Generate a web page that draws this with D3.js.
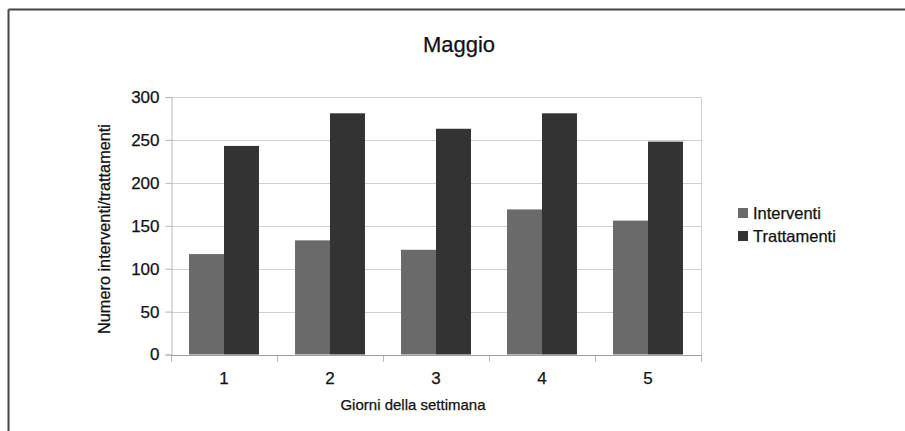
<!DOCTYPE html>
<html>
<head>
<meta charset="utf-8">
<script src="https://cdn.jsdelivr.net/npm/d3@7"></script>
<style>
  html, body { margin: 0; padding: 0; background: #fff; }
  svg { display: block; font-family: "Liberation Sans", Arial, Helvetica, sans-serif; }
  text { stroke: #111; stroke-width: 0.25px; }
</style>
</head>
<body>
<svg id="chart" width="905" height="431"></svg>
<script>
const categories = ["1", "2", "3", "4", "5"];
const seriesNames = ["Interventi", "Trattamenti"];
const interventi = [117, 133, 122, 169, 156];
const trattamenti = [243, 281, 263, 281, 248];
const yTicks = [0, 50, 100, 150, 200, 250, 300];
const colors = ["#6a6a6a", "#333333"];

const svg = d3.select("#chart");

// outer frame (top and left edges visible)
svg.append("line").attr("x1", 8.5).attr("x2", 905).attr("y1", 9.5).attr("y2", 9.5)
  .attr("stroke", "#444").attr("stroke-width", 2);
svg.append("line").attr("x1", 8.5).attr("x2", 8.5).attr("y1", 9.5).attr("y2", 431)
  .attr("stroke", "#444").attr("stroke-width", 2);

const plot = { left: 171, right: 701, top: 97, bottom: 354.5 };

const x0 = d3.scaleBand().domain(categories).range([plot.left, plot.right]).paddingInner(0.34).paddingOuter(0.17);
const x1 = d3.scaleBand().domain(seriesNames).range([0, x0.bandwidth()]).padding(0);
const y = d3.scaleLinear().domain([0, 300]).range([plot.bottom, plot.top]);

// gridlines
svg.append("g").selectAll("line").data(yTicks).join("line")
  .attr("x1", plot.left).attr("x2", plot.right)
  .attr("y1", d => Math.round(y(d)) + 0.5).attr("y2", d => Math.round(y(d)) + 0.5)
  .attr("stroke", "#cfcfcf").attr("stroke-width", 1);

// right border of plot
svg.append("line").attr("x1", plot.right + 0.5).attr("x2", plot.right + 0.5)
  .attr("y1", Math.round(y(300)) + 0.5).attr("y2", Math.round(y(0)) + 0.5)
  .attr("stroke", "#cfcfcf");

// bars
const data = categories.map((c, i) => ({ cat: c, vals: [interventi[i], trattamenti[i]] }));
svg.append("g").selectAll("g").data(data).join("g")
  .attr("transform", d => `translate(${x0(d.cat)},0)`)
  .selectAll("rect").data(d => d.vals.map((v, j) => ({ name: seriesNames[j], v, j })))
  .join("rect")
  .attr("x", d => x1(d.name))
  .attr("width", x1.bandwidth())
  .attr("y", d => y(d.v))
  .attr("height", d => y(0) - y(d.v))
  .attr("fill", d => colors[d.j]);

// y axis
const yAxis = svg.append("g").attr("transform", `translate(${plot.left + 0.5},0)`)
  .call(d3.axisLeft(y).tickValues(yTicks).tickSize(6).tickPadding(6));
yAxis.select(".domain").attr("stroke", "#b5b5b5");
yAxis.selectAll(".tick line").attr("stroke", "#b5b5b5");
yAxis.selectAll(".tick text").attr("font-size", 17).attr("fill", "#111")
  .attr("font-family", "Liberation Sans, Arial, sans-serif");

// x axis: ticks at category boundaries
const xAxisG = svg.append("g").attr("transform", `translate(0,${Math.round(y(0)) + 0.5})`);
xAxisG.append("line").attr("x1", plot.left).attr("x2", plot.right + 1)
  .attr("stroke", "#a0a0a0");
const bounds = d3.range(categories.length + 1).map(i => plot.left + i * (plot.right - plot.left) / categories.length);
xAxisG.selectAll("line.b").data(bounds).join("line").attr("class", "b")
  .attr("x1", d => Math.round(d) + 0.5).attr("x2", d => Math.round(d) + 0.5)
  .attr("y1", 0).attr("y2", 6).attr("stroke", "#b5b5b5");
xAxisG.selectAll("text").data(categories).join("text")
  .attr("x", d => x0(d) + x0.bandwidth() / 2)
  .attr("y", 28.5)
  .attr("text-anchor", "middle")
  .attr("font-size", 17).attr("fill", "#111")
  .text(d => d);

// title
svg.append("text").attr("x", 459).attr("y", 52).attr("text-anchor", "middle")
  .attr("font-size", 22).attr("fill", "#111").text("Maggio");

// axis titles
svg.append("text").attr("x", 413).attr("y", 410).attr("text-anchor", "middle")
  .attr("font-size", 15).attr("fill", "#111").text("Giorni della settimana");
svg.append("text").attr("transform", "translate(110,229) rotate(-90)")
  .attr("text-anchor", "middle").attr("font-size", 16.3).attr("fill", "#111")
  .text("Numero interventi/trattamenti");

// legend
const legend = svg.append("g").attr("transform", "translate(738,208)");
const li = legend.selectAll("g").data(seriesNames).join("g")
  .attr("transform", (d, i) => `translate(0,${i * 23})`);
li.append("rect").attr("width", 10).attr("height", 10).attr("fill", (d, i) => colors[i]);
li.append("text").attr("x", 15).attr("y", 11).attr("font-size", 16.5).attr("fill", "#111").text(d => d);
</script>
</body>
</html>
